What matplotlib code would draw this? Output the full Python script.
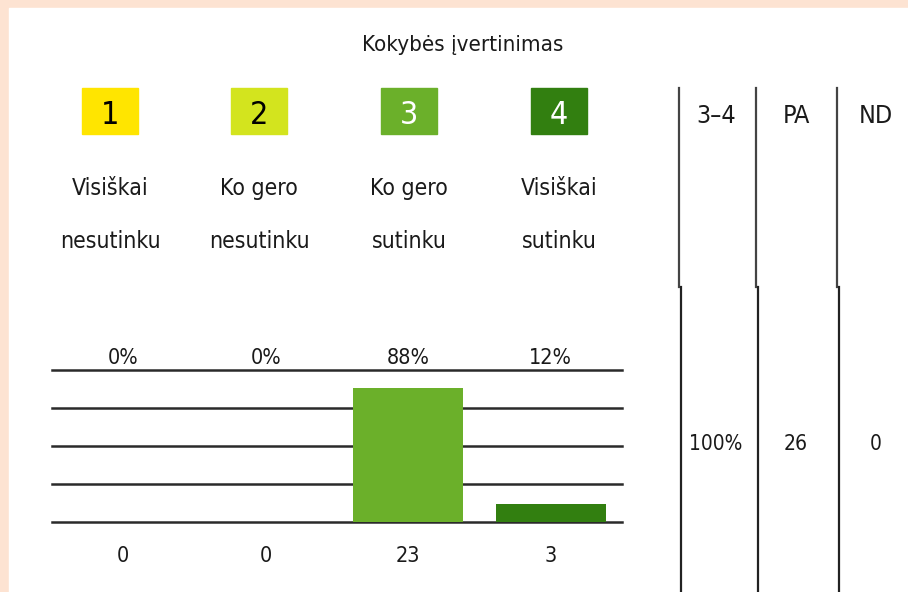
import matplotlib
matplotlib.use("Agg")
import matplotlib.pyplot as plt
import matplotlib.transforms as mtransforms
from matplotlib import font_manager
from matplotlib.patches import Rectangle

# look for a narrow / condensed sans font, the reference uses Arial Narrow
narrow = None
for f in font_manager.fontManager.ttflist:
    st = str(f.stretch)
    if ("Narrow" in f.name or "Condensed" in f.name or "condensed" in st) \
            and f.style == "normal" and f.weight in (400, "normal", "regular"):
        if narrow is None or "Liberation" in f.name:
            narrow = f
if narrow is not None:
    plt.rcParams["font.family"] = [narrow.name, "DejaVu Sans"]
    plt.rcParams["font.stretch"] = narrow.stretch
    SCALE = 1.0
else:
    plt.rcParams["font.family"] = ["Liberation Sans", "DejaVu Sans"]
    SCALE = 0.85

title = "Kokybės įvertinimas"
scores = ["1", "2", "3", "4"]
labels = [("Visiškai", "nesutinku"), ("Ko gero", "nesutinku"),
          ("Ko gero", "sutinku"), ("Visiškai", "sutinku")]
counts = [0, 0, 23, 3]
percents = [0, 0, 88, 12]
colors = ["#FFE500", "#D3E41E", "#6BB02A", "#327F10"]
digit_colors = ["black", "black", "white", "white"]
table_heads = ["3–4", "PA", "ND"]
table_vals = ["100%", "26", "0"]

W, H = 908, 592
fig = plt.figure(figsize=(W / 100, H / 100), dpi=100, facecolor="#FDE3D2")

# white panel inside the peach border
ov = fig.add_axes([0, 0, 1, 1])
ov.set_xlim(0, W)
ov.set_ylim(H, 0)
ov.axis("off")
ov.add_patch(Rectangle((9, 8), W, H, color="white", zorder=0))

# bar chart
ax = fig.add_axes([52 / W, (H - 522) / H, 570 / W, 152 / H])
ax.patch.set_alpha(0)
x = list(range(len(counts)))
ax.bar(x, percents, width=0.775, color=colors, zorder=3)
ax.set_xlim(-0.5, 3.5)
ax.set_ylim(0, 100)
ax.set_yticks([0, 25, 50, 75, 100])
ax.yaxis.grid(True, color="#2a2a2a", lw=1.8, zorder=1)
for gl in ax.get_ygridlines():
    gl.set_clip_on(False)
ax.tick_params(left=False, bottom=False, labelleft=False, labelbottom=False)
for s in ax.spines.values():
    s.set_visible(False)
up = mtransforms.ScaledTranslation(0, 6 / 100, fig.dpi_scale_trans)
down = mtransforms.ScaledTranslation(0, -40 / 100, fig.dpi_scale_trans)
for i in x:
    ax.text(i, 1.0, f"{percents[i]}%", transform=ax.get_xaxis_transform() + up,
            ha="center", va="baseline", fontsize=15.5 * SCALE, color="#1a1a1a")
    ax.text(i, 0, str(counts[i]), transform=ax.get_xaxis_transform() + down,
            ha="center", va="baseline", fontsize=15.5 * SCALE, color="#1a1a1a")

# header: title, colour keys, captions
ov.text(463, 51, title, ha="center", va="baseline", fontsize=16 * SCALE, color="#1a1a1a")
key_x = [110, 259, 409, 559]
for i, cx in enumerate(key_x):
    ov.add_patch(Rectangle((cx - 28, 88), 56, 46, color=colors[i], zorder=2))
    ov.text(cx, 124, scores[i], ha="center", va="baseline", fontsize=23 * SCALE,
            color=digit_colors[i], zorder=3)
    ov.text(cx, 195, labels[i][0], ha="center", va="baseline", fontsize=16.5 * SCALE, color="#1a1a1a")
    ov.text(cx, 248, labels[i][1], ha="center", va="baseline", fontsize=16.5 * SCALE, color="#1a1a1a")

# summary table on the right
for xt, xb in zip([679, 756, 837], [681, 758, 839]):
    ov.plot([xt, xt], [88, 287], color="#444", lw=1.6)
    ov.plot([xb, xb], [287, H], color="#222", lw=1.6)
for cx, head, val in zip([716, 796, 876], table_heads, table_vals):
    ov.text(cx, 123, head, ha="center", va="baseline", fontsize=18 * SCALE, color="#1a1a1a")
    ov.text(cx, 450, val, ha="center", va="baseline", fontsize=15 * SCALE, color="#1a1a1a")

fig.savefig("out.png", dpi=100, facecolor=fig.get_facecolor())
